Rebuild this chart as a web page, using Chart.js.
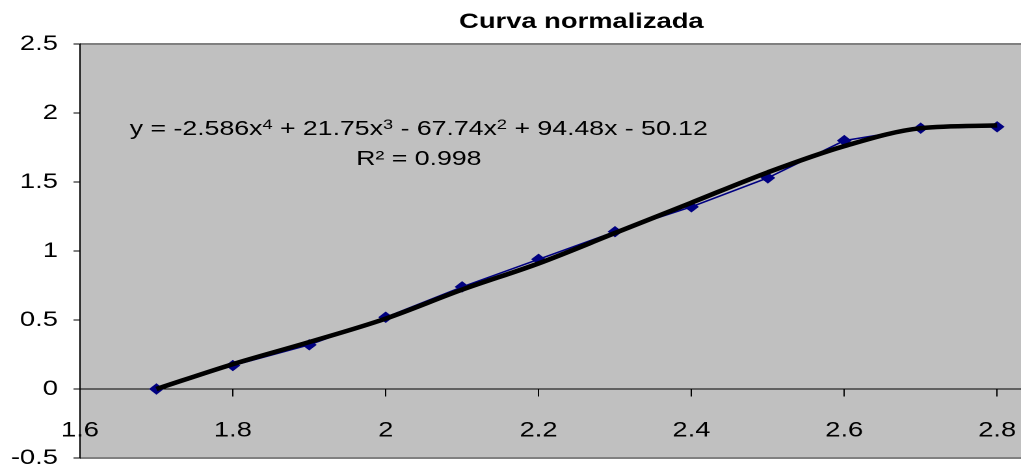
<!DOCTYPE html>
<html>
<head>
<meta charset="utf-8">
<script src="https://cdn.jsdelivr.net/npm/chart.js@4.4.1/dist/chart.umd.min.js"></script>
<style>
  html, body { margin: 0; padding: 0; background: #fff; overflow: hidden; }
  /* the original picture is a horizontally stretched Excel chart */
  #wrap { width: 785px; height: 471px; transform: scale(1.3006, 1); transform-origin: 0 0; }
</style>
</head>
<body>
<div id="wrap"><canvas id="chart" width="785" height="471"></canvas></div>
<script>
  // Measured points
  const xValues = [1.7, 1.8, 1.9, 2.0, 2.1, 2.2, 2.3, 2.4, 2.5, 2.6, 2.7, 2.8];
  const measured = [0, 0.17, 0.32, 0.52, 0.74, 0.94, 1.14, 1.32, 1.53, 1.80, 1.89, 1.90];
  // Polynomial trendline at the same x values
  const trendline = [0, 0.18, 0.34, 0.51, 0.72, 0.91, 1.13, 1.35, 1.57, 1.76, 1.89, 1.91];

  const xTicks = [1.6, 1.8, 2.0, 2.2, 2.4, 2.6, 2.8];
  const yTicks = [-0.5, 0, 0.5, 1, 1.5, 2, 2.5];

  const chartTitle = 'Curva normalizada';
  // [text, isSuperscript]
  const equationParts = [
    ['y = -2.586x', false], ['4', true],
    [' + 21.75x', false], ['3', true],
    [' - 67.74x', false], ['2', true],
    [' + 94.48x - 50.12', false]
  ];
  const rSquared = 'R\u00B2 = 0.998';

  const FONT = '"Liberation Sans", Arial, sans-serif';

  const toPoints = ys => xValues.map((x, i) => ({ x: x, y: ys[i] }));
  const fmt = v => String(Math.round(v * 10) / 10);

  // keep the plot area where the reference has it
  function noPadding(scale) {
    scale.paddingLeft = 0;
    scale.paddingRight = 0;
    scale.paddingTop = 0;
    scale.paddingBottom = 0;
  }

  const plotPlugin = {
    id: 'plotPlugin',
    beforeDraw(chart) {
      const { ctx, chartArea: a } = chart;
      const w = chart.width - a.left; // the gray runs off the right edge
      ctx.save();
      ctx.fillStyle = '#c0c0c0';
      ctx.fillRect(a.left, a.top, w, a.bottom - a.top);
      ctx.fillStyle = '#808080';
      ctx.fillRect(a.left, a.top - 1, w, 2);
      ctx.fillRect(a.left, a.bottom - 1, w, 2);
      ctx.restore();
    },
    afterDraw(chart) {
      const ctx = chart.ctx;
      const a = chart.chartArea;
      ctx.save();
      // zero line continues to the edge too
      const y0 = Math.round(chart.scales.y.getPixelForValue(0));
      ctx.fillStyle = '#000';
      ctx.fillRect(a.right - 1, y0 - 0.5, chart.width - a.right + 1, 1);

      ctx.textBaseline = 'alphabetic';

      // title
      ctx.font = 'bold 21px ' + FONT;
      ctx.textAlign = 'center';
      ctx.fillText(chartTitle, 447, 28);

      // trendline equation, centred on one x
      const cx = 322;
      const mainFont = '20.5px ' + FONT;
      const supFont = '14px ' + FONT;
      let total = 0;
      equationParts.forEach(([t, sup]) => {
        ctx.font = sup ? supFont : mainFont;
        total += ctx.measureText(t).width;
      });
      ctx.textAlign = 'left';
      let x = cx - total / 2;
      equationParts.forEach(([t, sup]) => {
        ctx.font = sup ? supFont : mainFont;
        ctx.fillText(t, x, sup ? 129 : 135);
        x += ctx.measureText(t).width;
      });

      ctx.font = mainFont;
      ctx.textAlign = 'center';
      ctx.fillText(rSquared, cx, 165);
      ctx.restore();
    }
  };

  new Chart(document.getElementById('chart'), {
    type: 'scatter',
    data: {
      datasets: [
        {
          label: 'Poly. trend',
          data: toPoints(trendline),
          showLine: true,
          borderColor: '#000',
          borderWidth: 4.5,
          pointRadius: 0,
          cubicInterpolationMode: 'monotone',
          order: 0
        },
        {
          label: 'Curva',
          data: toPoints(measured),
          showLine: true,
          borderColor: '#000080',
          backgroundColor: '#000080',
          borderWidth: 1.5,
          pointStyle: 'rectRot',
          pointRadius: 5,
          pointBorderWidth: 1,
          order: 1
        }
      ]
    },
    options: {
      responsive: false,
      animation: false,
      devicePixelRatio: 2,
      layout: { padding: { top: 44, bottom: 13, left: 0, right: 0 } },
      plugins: {
        legend: { display: false },
        tooltip: { enabled: false }
      },
      scales: {
        x: {
          type: 'linear',
          position: { y: 0 },
          min: 1.6,
          max: 2.821,
          afterBuildTicks: scale => { scale.ticks = xTicks.map(v => ({ value: v })); },
          afterFit: noPadding,
          grid: { drawOnChartArea: false, drawTicks: true, tickLength: 7, color: '#000' },
          border: { display: true, color: '#000', width: 1 },
          ticks: {
            color: '#000',
            font: { family: FONT, size: 21 },
            padding: 22,
            maxRotation: 0,
            autoSkip: false,
            callback: v => fmt(v)
          }
        },
        y: {
          min: -0.5,
          max: 2.5,
          afterBuildTicks: scale => { scale.ticks = yTicks.map(v => ({ value: v })); },
          afterFit: scale => { scale.width = 61.5; noPadding(scale); },
          grid: { drawOnChartArea: false, drawTicks: true, tickLength: 5, color: '#000' },
          border: { display: true, color: '#000', width: 1 },
          ticks: {
            color: '#000',
            font: { family: FONT, size: 21 },
            padding: 12,
            autoSkip: false,
            callback: v => fmt(v)
          }
        }
      }
    },
    plugins: [plotPlugin]
  });
</script>
</body>
</html>
